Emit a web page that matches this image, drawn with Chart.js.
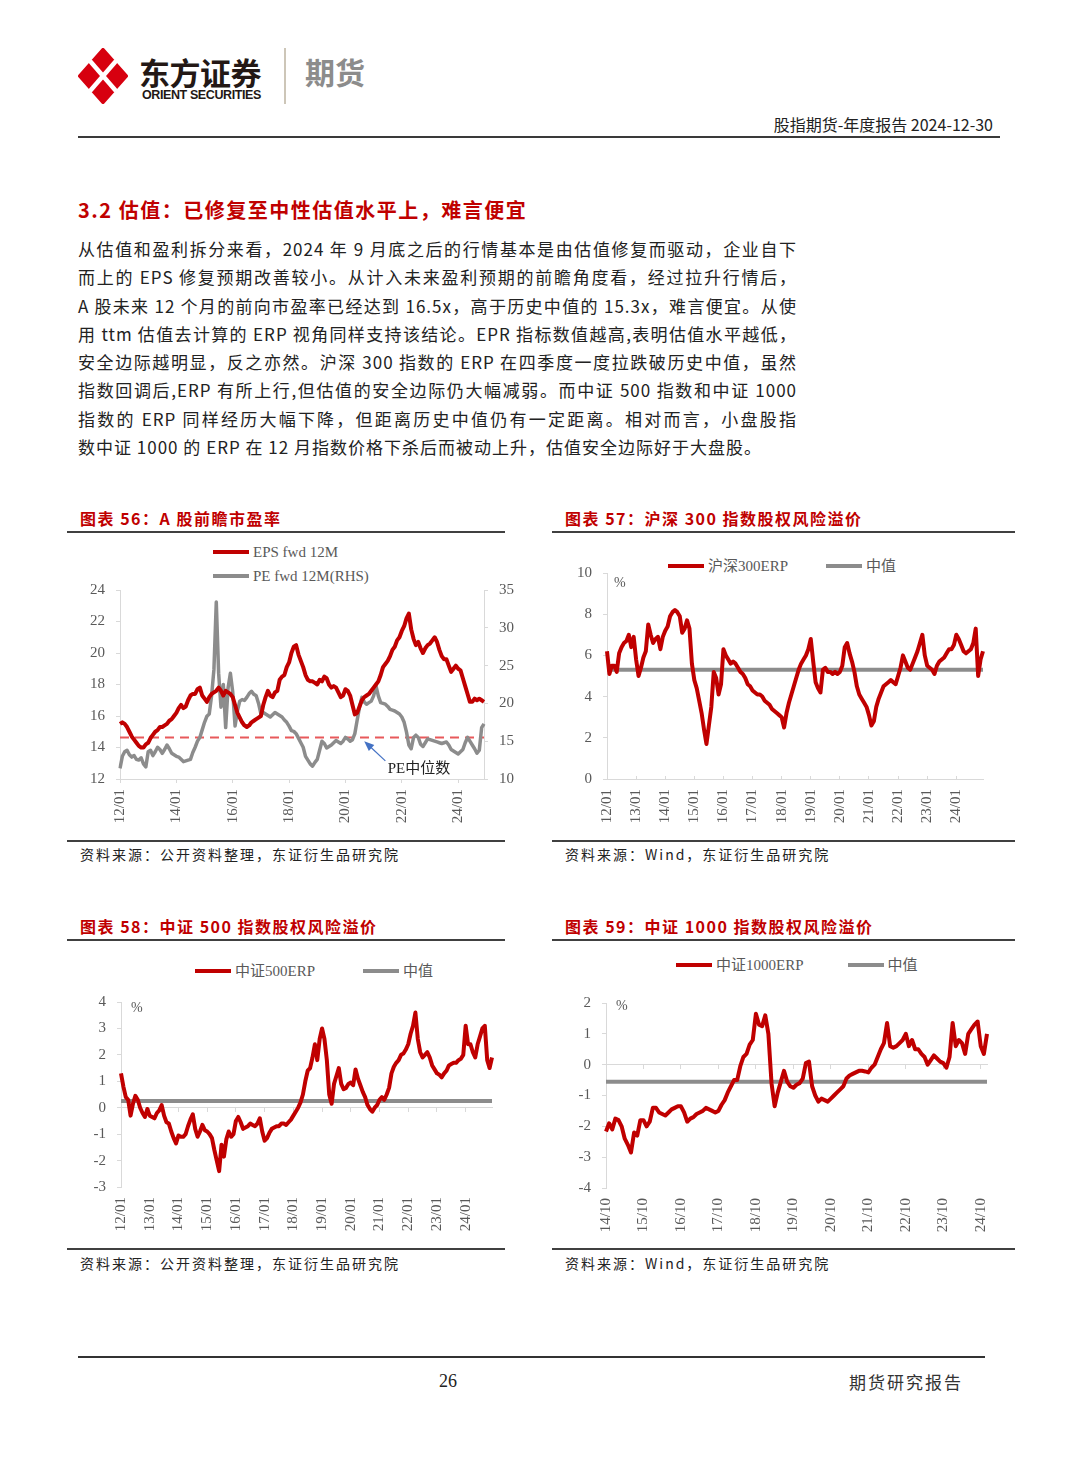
<!DOCTYPE html>
<html lang="zh-CN">
<head>
<meta charset="UTF-8">
<title>股指期货-年度报告</title>
<script src="https://cdn.jsdelivr.net/npm/chart.js"></script>
<style>
  html, body { margin: 0; padding: 0; background: #fff; }
  body { width: 1080px; height: 1466px; overflow: hidden; position: relative;
         font-family: "Noto Sans CJK SC", sans-serif; color: #222; }
  .abs { position: absolute; white-space: nowrap; }
  .rule { position: absolute; background: #404040; }
  .title { font-size: 16px; line-height: 16px; font-weight: 700; color: #c00000; letter-spacing: 1.5px; }
  .source { font-size: 14px; line-height: 14px; color: #222; letter-spacing: 2px; }
  .body-text { position: absolute; font-size: 17px; line-height: 28.3px; letter-spacing: 1px; color: #222; }
  .body-text div { white-space: nowrap; }
  .body-text .jl { text-align: justify; text-align-last: justify; }
  .chart { position: absolute; }
  .legend { position: absolute; display: flex; font: 15px/16px "Liberation Serif", "Noto Sans CJK SC", serif; color: #595959; }
  .lg-item { display: flex; align-items: center; }
  .lg-line { display: inline-block; width: 36px; height: 4px; margin-right: 4px; }
  .pct { font: 14px/14px "Liberation Serif", serif; color: #595959; }
</style>
</head>
<body>

<!-- 页眉 -->
<svg class="abs" style="left:78px;top:48px" width="50" height="56" viewBox="0 0 50 56">
  <polygon points="25,2 48,28 25,54 2,28" fill="#d7000f" stroke="#d7000f" stroke-width="4" stroke-linejoin="round"/>
  <line x1="12" y1="13" x2="38" y2="43" stroke="#fff" stroke-width="4.5"/>
  <line x1="38" y1="13" x2="12" y2="43" stroke="#fff" stroke-width="4.5"/>
</svg>
<div class="abs" style="left:139px;top:56px;font-size:31px;line-height:31px;font-weight:700;color:#231815;letter-spacing:-0.5px">东方证券</div>
<div class="abs" style="left:142px;top:89px;font:700 12.5px/12px 'Liberation Sans', sans-serif;color:#231815;letter-spacing:-0.4px">ORIENT SECURITIES</div>
<div class="abs" style="left:284px;top:48px;width:1.5px;height:56px;background:#cdc6b8"></div>
<div class="abs" style="left:305px;top:56px;font-size:30px;line-height:30px;font-weight:700;color:#8c8c8c">期货</div>
<div class="abs" style="right:87px;top:116px;font-size:16px;line-height:16px;color:#222">股指期货-年度报告 2024-12-30</div>
<div class="rule" style="left:78px;top:136px;width:922px;height:2px;background:#3a3a3a"></div>

<!-- 正文 -->
<div class="abs" style="left:78px;top:200px;font-size:20px;line-height:20px;font-weight:700;color:#c00000;letter-spacing:1.5px">3.2 估值：已修复至中性估值水平上，难言便宜</div>
<div class="body-text" style="left:78px;top:235px;width:719px">
  <div class="jl">从估值和盈利拆分来看，2024 年 9 月底之后的行情基本是由估值修复而驱动，企业自下</div>
  <div class="jl">而上的 EPS 修复预期改善较小。从计入未来盈利预期的前瞻角度看，经过拉升行情后，</div>
  <div class="jl">A 股未来 12 个月的前向市盈率已经达到 16.5x，高于历史中值的 15.3x，难言便宜。从使</div>
  <div class="jl">用 ttm 估值去计算的 ERP 视角同样支持该结论。EPR 指标数值越高,表明估值水平越低，</div>
  <div class="jl">安全边际越明显，反之亦然。沪深 300 指数的 ERP 在四季度一度拉跌破历史中值，虽然</div>
  <div class="jl">指数回调后,ERP 有所上行,但估值的安全边际仍大幅减弱。而中证 500 指数和中证 1000</div>
  <div class="jl">指数的 ERP 同样经历大幅下降，但距离历史中值仍有一定距离。相对而言，小盘股指</div>
  <div>数中证 1000 的 ERP 在 12 月指数价格下杀后而被动上升，估值安全边际好于大盘股。</div>
</div>

<!-- 图表 56 -->
<div class="abs title" style="left:80px;top:510px">图表 56：A 股前瞻市盈率</div>
<div class="rule" style="left:67px;top:531px;width:438px;height:1.5px"></div>
<div class="legend" id="lg56" style="left:213px;top:544px;flex-direction:column;row-gap:8px"></div>
<div class="chart" style="left:65px;top:570px;width:455px;height:265px"><canvas id="c56"></canvas></div>
<div class="rule" style="left:67px;top:840px;width:438px;height:1.5px"></div>
<div class="abs source" style="left:80px;top:847px">资料来源：公开资料整理，东证衍生品研究院</div>

<!-- 图表 57 -->
<div class="abs title" style="left:565px;top:510px">图表 57：沪深 300 指数股权风险溢价</div>
<div class="rule" style="left:552px;top:531px;width:463px;height:1.5px"></div>
<div class="legend" id="lg57" style="left:668px;top:558px;column-gap:38px"></div>
<div class="chart" style="left:550px;top:553px;width:465px;height:282px"><canvas id="c57"></canvas></div>
<div class="abs pct" style="left:614px;top:576px">%</div>
<div class="rule" style="left:552px;top:840px;width:463px;height:1.5px"></div>
<div class="abs source" style="left:565px;top:847px">资料来源：Wind，东证衍生品研究院</div>

<!-- 图表 58 -->
<div class="abs title" style="left:80px;top:918px">图表 58：中证 500 指数股权风险溢价</div>
<div class="rule" style="left:67px;top:939px;width:438px;height:1.5px"></div>
<div class="legend" id="lg58" style="left:195px;top:963px;column-gap:48px"></div>
<div class="chart" style="left:65px;top:982px;width:455px;height:263px"><canvas id="c58"></canvas></div>
<div class="abs pct" style="left:131px;top:1001px">%</div>
<div class="rule" style="left:67px;top:1248px;width:438px;height:1.5px"></div>
<div class="abs source" style="left:80px;top:1256px">资料来源：公开资料整理，东证衍生品研究院</div>

<!-- 图表 59 -->
<div class="abs title" style="left:565px;top:918px">图表 59：中证 1000 指数股权风险溢价</div>
<div class="rule" style="left:552px;top:939px;width:463px;height:1.5px"></div>
<div class="legend" id="lg59" style="left:676px;top:957px;column-gap:44px"></div>
<div class="chart" style="left:550px;top:983px;width:465px;height:262px"><canvas id="c59"></canvas></div>
<div class="abs pct" style="left:616px;top:999px">%</div>
<div class="rule" style="left:552px;top:1248px;width:463px;height:1.5px"></div>
<div class="abs source" style="left:565px;top:1256px">资料来源：Wind，东证衍生品研究院</div>

<!-- 页脚 -->
<div class="rule" style="left:78px;top:1356px;width:907px;height:2px;background:#333"></div>
<div class="abs" style="left:439px;top:1372px;font:18px/18px 'Liberation Serif', serif;color:#222">26</div>
<div class="abs" style="left:849px;top:1373px;font-size:17px;line-height:17px;color:#333;letter-spacing:2px">期货研究报告</div>

<script>
  // ---- 数据（月度，读图估计） ----
  function monthRange(y0, m0, y1, m1) {
    const out = [];
    for (let y = y0, m = m0; y < y1 || (y === y1 && m <= m1);) {
      out.push(String(y % 100).padStart(2, '0') + '/' + String(m).padStart(2, '0'));
      if (++m > 12) { m = 1; y++; }
    }
    return out;
  }

  const months12 = monthRange(2012, 1, 2024, 12);   // 图 56/57/58
  const months14 = monthRange(2014, 10, 2024, 12);  // 图 59

  const ticks56 = ['12/01', '14/01', '16/01', '18/01', '20/01', '22/01', '24/01'];
  const ticksYear = ['12/01', '13/01', '14/01', '15/01', '16/01', '17/01', '18/01', '19/01', '20/01', '21/01', '22/01', '23/01', '24/01'];
  const ticks59 = ['14/10', '15/10', '16/10', '17/10', '18/10', '19/10', '20/10', '21/10', '22/10', '23/10', '24/10'];

  const eps56 = [
    15.5, 15.6, 15.5, 15.3, 15.0, 14.7, 14.5, 14.3, 14.1, 14.0, 14.0, 14.2,
    14.3, 14.6, 14.8, 15.0, 15.1, 15.3, 15.3, 15.4, 15.5, 15.7, 15.8, 16.0,
    16.2, 16.5, 16.7, 16.5, 16.6, 17.0, 17.3, 17.4, 17.4, 17.7, 17.8, 17.3,
    17.1, 16.9, 17.2, 17.4, 17.5, 17.6, 17.8, 17.6, 17.3, 17.6, 17.5, 17.4,
    17.2, 16.7, 16.2, 15.9, 15.6, 15.4, 15.3, 15.4, 15.6, 15.7, 15.8, 15.9,
    16.0, 16.7, 17.2, 17.6, 17.3, 17.2, 17.5, 17.6, 18.3, 18.5, 18.6, 19.1,
    19.4, 20.0, 20.4, 20.5, 19.9, 19.5, 19.1, 18.6, 18.3, 18.2, 18.2, 18.1,
    18.0, 18.3, 18.2, 18.5, 18.4, 18.0, 17.8, 17.9, 17.8, 17.5, 17.2, 17.3,
    17.7, 17.6, 17.3, 16.7, 16.1, 16.2, 16.6, 17.0, 17.2, 17.3, 17.4, 17.6,
    17.8, 18.0, 18.2, 18.6, 19.1, 19.3, 19.5, 19.8, 20.2, 20.4, 20.8, 21.0,
    21.4, 21.7, 22.2, 22.5, 21.5, 20.9, 20.5, 20.7, 20.3, 20.0, 20.3, 20.5,
    20.6, 20.8, 21.0, 20.7, 20.2, 19.8, 19.6, 19.6, 19.2, 18.8, 19.0, 19.2,
    19.0, 18.9, 18.4, 17.9, 17.4, 16.9, 16.9, 17.1, 17.0, 17.1, 17.0, 16.9
  ];
  const pe56 = [
    11.4, 13.0, 13.6, 13.8, 13.2, 12.9, 13.1, 12.6, 12.5, 12.8, 12.0, 11.6,
    13.6, 13.8, 13.1, 13.6, 14.2, 13.9, 13.4, 13.9, 14.5, 14.0, 13.4, 13.2,
    13.0, 12.9, 12.6, 12.3, 12.4, 12.5, 12.6, 13.5, 14.2, 15.0, 15.5, 16.5,
    17.5, 18.3, 18.6, 21.0, 24.5, 33.4, 24.0, 19.5, 22.5, 16.8, 22.0, 24.0,
    21.5, 17.0, 19.0, 20.3, 20.5, 20.4, 20.8, 21.3, 21.6, 21.2, 21.0, 20.0,
    18.6, 18.8, 18.6, 18.4, 18.2, 18.5, 18.8, 18.6, 18.4, 18.2, 17.8, 17.5,
    17.0, 16.4, 16.3, 16.0, 15.4, 14.8, 14.2, 13.0, 12.5, 12.0, 11.7, 12.2,
    12.6, 13.8, 15.0, 14.7, 14.1, 14.3, 14.5, 14.8, 15.1, 14.9, 14.7, 15.0,
    15.5, 15.3, 15.0, 15.2, 16.0, 17.8, 19.5, 20.8, 20.2, 19.9, 20.1, 20.3,
    21.0, 22.3, 21.0, 20.1, 20.0, 19.9, 19.6, 19.2, 19.1, 19.0, 18.8, 18.6,
    18.2, 17.5, 16.2, 14.5, 14.0, 15.5, 15.8, 15.5, 14.6, 14.3, 14.8, 15.3,
    15.2, 15.1, 15.0, 14.9, 14.8, 14.7, 14.8, 14.9, 14.5, 13.9, 13.7, 13.5,
    13.3, 13.6, 13.9, 14.8, 15.5, 15.0, 14.5, 14.0, 13.4, 13.8, 16.8, 17.3
  ];
  const peMedian = 15.5;

  const hs300Erp = [
    6.2, 5.1, 5.5, 5.5, 5.2, 6.1, 6.4, 6.6, 6.7, 7.0, 6.4, 6.9,
    5.8, 5.0, 5.4, 5.9, 6.2, 7.5, 7.0, 6.6, 6.8, 6.9, 6.3, 6.9,
    7.2, 7.4, 7.9, 8.1, 8.2, 8.1, 7.9, 7.1, 7.3, 7.7, 7.3, 5.6,
    4.8, 4.4, 3.8, 3.2, 2.4, 1.7, 2.6, 3.5, 5.2, 4.9, 4.1, 4.6,
    6.3, 6.0, 5.8, 5.6, 5.7, 5.6, 5.4, 5.2, 5.1, 4.9, 4.6, 4.5,
    4.3, 4.2, 4.1, 4.1, 4.0, 3.8, 3.7, 3.6, 3.4, 3.3, 3.2, 3.1,
    3.0, 2.5, 3.2, 3.7, 4.1, 4.5, 4.9, 5.3, 5.6, 5.8, 6.0, 6.3,
    6.8, 5.7, 4.7, 4.4, 4.2, 5.3, 5.4, 5.2, 5.2, 5.1, 5.2, 5.1,
    5.2, 5.5, 6.4, 6.6, 6.1, 5.7, 5.2, 4.5, 4.1, 3.9, 3.7, 3.5,
    3.1, 2.6, 2.8, 3.5, 3.9, 4.2, 4.5, 4.6, 4.7, 4.8, 4.7, 4.6,
    5.0, 5.4, 6.0, 5.7, 5.4, 5.3, 5.6, 5.9, 6.2, 6.6, 7.0, 6.0,
    5.5, 5.4, 5.3, 5.1, 5.5, 5.7, 5.8, 5.9, 6.1, 6.3, 6.3, 6.5,
    7.0, 6.8, 6.5, 6.2, 6.1, 6.2, 6.3, 6.6, 7.3, 5.0, 5.8, 6.2
  ];
  const hs300Median = 5.3;

  const csi500Erp = [
    1.3, 0.8, 0.4, 0.3, -0.3, 0.15, 0.45, 0.3, 0.0, -0.2, -0.35, -0.05,
    -0.3, -0.35, -0.4, -0.2, -0.1, 0.1, -0.3, -0.55, -0.6, -0.9, -1.15, -1.35,
    -1.05, -1.1, -1.1, -1.0, -0.7, -0.45, -0.25, -0.8, -1.1, -0.9, -0.65, -0.85,
    -0.9, -1.0, -1.15, -1.6, -2.0, -2.4, -1.4, -1.85, -1.2, -0.9, -1.1, -1.0,
    -0.5, -0.35, -0.55, -0.8, -0.75, -0.7, -0.6, -0.65, -0.7, -0.6, -0.4, -0.9,
    -1.25, -1.15, -0.95, -0.8, -0.75, -0.7, -0.7, -0.6, -0.6, -0.65, -0.55, -0.45,
    -0.3, -0.15, 0.0, 0.2, 0.5, 1.0, 1.4, 1.5, 1.9, 2.4, 1.8, 2.6,
    3.0, 2.6, 1.8, 0.5, 0.15, 0.9, 1.2, 1.5, 0.9, 0.7, 0.75, 0.9,
    0.95, 0.85, 1.45, 1.1, 0.85, 0.6, 0.4, 0.1, -0.05, -0.15, 0.0, 0.1,
    0.3, 0.4, 0.3, 0.5, 0.75, 1.3, 1.55, 1.7, 1.8, 2.0, 2.05, 2.2,
    2.4, 2.8, 3.1, 3.6, 2.6, 2.1, 1.9, 2.0, 2.1, 1.9, 1.6, 1.45,
    1.3, 1.25, 1.15, 1.3, 1.4, 1.6, 1.65, 1.7, 1.7, 1.8, 1.85, 2.0,
    3.1, 2.4, 2.4, 2.1, 1.9, 2.4, 2.7, 3.0, 3.1, 1.8, 1.5, 1.9
  ];
  const csi500Median = 0.25;

  const csi1000Erp = [
    -2.17, -1.9, -2.1,
    -1.75, -1.8, -2.0, -2.4, -2.6, -2.85, -2.2, -2.3, -1.8, -1.8, -2.0, -1.85,
    -1.4, -1.4, -1.55, -1.6, -1.65, -1.55, -1.45, -1.4, -1.35, -1.35, -1.55, -1.85,
    -1.75, -1.7, -1.6, -1.55, -1.5, -1.4, -1.45, -1.5, -1.55, -1.5, -1.3, -1.15,
    -0.9, -0.7, -0.5, -0.5, -0.05, 0.25, 0.35, 0.65, 0.8, 1.65, 1.3, 1.25,
    1.6, 1.0, -0.6, -1.35, -0.9, -0.55, -0.2, -0.55, -0.7, -0.75, -0.65, -0.6,
    -0.45, 0.05, 0.1, -0.7, -1.0, -1.2, -1.1, -1.15, -1.2, -1.1, -1.0, -0.9,
    -0.8, -0.7, -0.45, -0.35, -0.3, -0.25, -0.2, -0.2, -0.22, -0.25, -0.1, 0.0,
    0.25, 0.5, 0.7, 1.35, 0.6, 0.55, 0.6, 0.7, 0.8, 1.0, 0.6, 0.8,
    0.5, 0.5, 0.35, 0.25, 0.0, 0.15, 0.3, 0.2, 0.1, 0.05, -0.1, 0.25,
    1.35, 0.6, 0.8, 0.7, 0.35, 1.0, 1.15, 1.3, 1.4, 0.6, 0.35, 1.0
  ];
  const csi1000Median = -0.55;

  // ---- 样式 ----
  const RED = '#c00000';
  const GRAY = '#8c8c8c';
  const AXIS = '#d9d9d9';
  const TXT = '#595959';
  const tickFont = { family: 'Liberation Serif', size: 15 };

  Chart.defaults.animation = false;
  Chart.defaults.responsive = true;
  Chart.defaults.maintainAspectRatio = false;
  Chart.defaults.font.family = 'Liberation Serif';
  Chart.defaults.plugins.legend.display = false;
  Chart.defaults.plugins.tooltip.enabled = false;
  Chart.defaults.elements.point.radius = 0;
  Chart.defaults.elements.line.borderWidth = 4;
  Chart.defaults.elements.line.tension = 0;
  Chart.defaults.elements.line.borderJoinStyle = 'round';

  // tickLen < 0 时刻度线朝图内
  function xAxis(labels, shown, height, atBottomLine, tickLen) {
    const tl = tickLen === undefined ? 4 : tickLen;
    return {
      type: 'category',
      ticks: {
        autoSkip: false, maxRotation: 90, minRotation: 90,
        padding: atBottomLine ? 10 - tl : 10, color: TXT, font: tickFont,
        callback: (v, i) => shown.includes(labels[i]) ? labels[i] : ''
      },
      grid: atBottomLine
        ? { drawOnChartArea: false, tickLength: tl, color: c => shown.includes(labels[c.index]) ? AXIS : 'rgba(0,0,0,0)' }
        : { display: false, drawTicks: false },
      border: { display: atBottomLine, color: AXIS },
      afterFit: s => { s.height = height; }
    };
  }

  // 零轴（Excel 的横轴穿过 0）
  function zeroAxis(labels, shown) {
    return {
      type: 'category',
      position: { y: 0 },
      ticks: { display: false },
      grid: { drawOnChartArea: false, tickLength: 4, color: c => shown.includes(labels[c.index]) ? AXIS : 'rgba(0,0,0,0)' },
      border: { color: AXIS }
    };
  }

  function yAxis(min, max, step, width, position) {
    return {
      position, min, max,
      ticks: { stepSize: step, padding: 11, color: TXT, font: tickFont },
      grid: { drawOnChartArea: false, tickLength: 4, color: AXIS },
      border: { color: AXIS },
      afterFit: s => { s.width = width; }
    };
  }

  function medianLine(labels, value, extra) {
    return Object.assign({
      label: '中值',
      data: [{ x: labels[0], y: value }, { x: labels[labels.length - 1], y: value }],
      borderColor: GRAY, backgroundColor: GRAY, borderWidth: 4
    }, extra || {});
  }

  function htmlLegend(chart, id) {
    const box = document.getElementById(id);
    chart.data.datasets.filter(d => !d.hideLegend).forEach(d => {
      const item = document.createElement('div');
      item.className = 'lg-item';
      item.innerHTML = '<span class="lg-line" style="background:' + d.borderColor + '"></span><span>' + d.label + '</span>';
      box.appendChild(item);
    });
  }

  // "PE中位数" 箭头标注
  const peNote = {
    id: 'peNote',
    afterDatasetsDraw(chart) {
      const { ctx, scales: { x, y1 } } = chart;
      const tipX = x.getPixelForValue(104), tipY = y1.getPixelForValue(15.0);
      const tailX = x.getPixelForValue(113), tailY = y1.getPixelForValue(12.4);
      const ang = Math.atan2(tipY - tailY, tipX - tailX);
      ctx.save();
      ctx.strokeStyle = '#4472c4';
      ctx.fillStyle = '#4472c4';
      ctx.lineWidth = 1.2;
      ctx.beginPath();
      ctx.moveTo(tailX, tailY);
      ctx.lineTo(tipX - 6 * Math.cos(ang), tipY - 6 * Math.sin(ang));
      ctx.stroke();
      ctx.beginPath();
      ctx.moveTo(tipX, tipY);
      ctx.lineTo(tipX - 10 * Math.cos(ang) + 4 * Math.sin(ang), tipY - 10 * Math.sin(ang) - 4 * Math.cos(ang));
      ctx.lineTo(tipX - 10 * Math.cos(ang) - 4 * Math.sin(ang), tipY - 10 * Math.sin(ang) + 4 * Math.cos(ang));
      ctx.closePath();
      ctx.fill();
      ctx.fillStyle = '#222';
      ctx.font = '15px "Liberation Serif", "Noto Sans CJK SC"';
      ctx.textBaseline = 'middle';
      ctx.fillText('PE中位数', x.getPixelForValue(114), y1.getPixelForValue(11.3));
      ctx.restore();
    }
  };

  // ---- 图表 56 ----
  const chart56 = new Chart(document.getElementById('c56'), {
    type: 'line',
    data: {
      labels: months12,
      datasets: [
        { label: 'EPS fwd 12M', data: eps56, borderColor: RED, backgroundColor: RED, yAxisID: 'y' },
        { label: 'PE fwd 12M(RHS)', data: pe56, borderColor: GRAY, backgroundColor: GRAY, borderWidth: 3.5, yAxisID: 'y1' },
        medianLine(months12, peMedian, { label: 'PE中位数', borderColor: '#e8595b', borderWidth: 2, borderDash: [9, 6], yAxisID: 'y1', hideLegend: true })
      ]
    },
    options: {
      layout: { padding: { top: 8, left: 0, right: 0, bottom: 0 } },
      scales: {
        x: xAxis(months12, ticks56, 56, true),
        y: yAxis(12, 24, 2, 55, 'left'),
        y1: yAxis(10, 35, 5, 36, 'right')
      }
    },
    plugins: [peNote]
  });
  htmlLegend(chart56, 'lg56');

  // ---- 图表 57 ----
  const chart57 = new Chart(document.getElementById('c57'), {
    type: 'line',
    data: {
      labels: months12,
      datasets: [
        { label: '沪深300ERP', data: hs300Erp, borderColor: RED, backgroundColor: RED },
        medianLine(months12, hs300Median)
      ]
    },
    options: {
      layout: { padding: { top: 10, left: 0, right: 32, bottom: 0 } },
      scales: {
        x: xAxis(months12, ticksYear, 56, true, -3),
        y: yAxis(0, 10, 2, 57, 'left')
      }
    }
  });
  htmlLegend(chart57, 'lg57');

  // ---- 图表 58 ----
  const chart58 = new Chart(document.getElementById('c58'), {
    type: 'line',
    data: {
      labels: months12,
      datasets: [
        { label: '中证500ERP', data: csi500Erp, borderColor: RED, backgroundColor: RED },
        medianLine(months12, csi500Median)
      ]
    },
    options: {
      layout: { padding: { top: 11, left: 0, right: 14, bottom: 0 } },
      scales: {
        x: xAxis(months12, ticksYear, 58, false),
        x2: zeroAxis(months12, ticksYear),
        y: yAxis(-3, 4, 1, 56, 'left')
      }
    }
  });
  htmlLegend(chart58, 'lg58');

  // ---- 图表 59 ----
  const chart59 = new Chart(document.getElementById('c59'), {
    type: 'line',
    data: {
      labels: months14,
      datasets: [
        { label: '中证1000ERP', data: csi1000Erp, borderColor: RED, backgroundColor: RED },
        medianLine(months14, csi1000Median)
      ]
    },
    options: {
      layout: { padding: { top: 12, left: 0, right: 24, bottom: 0 } },
      scales: {
        x: xAxis(months14, ticks59, 57, false),
        x2: zeroAxis(months14, ticks59),
        y: yAxis(-4, 2, 1, 56, 'left')
      }
    }
  });
  htmlLegend(chart59, 'lg59');
</script>
</body>
</html>
